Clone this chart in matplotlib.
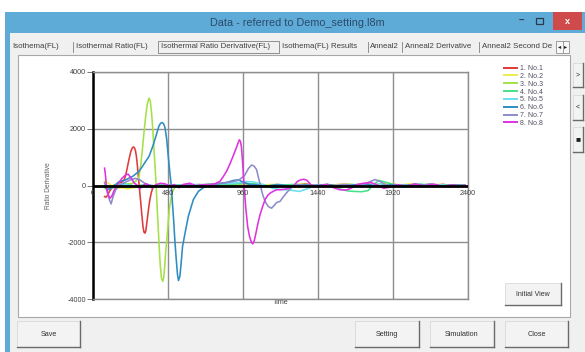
import matplotlib
matplotlib.use("Agg")
import matplotlib.pyplot as plt
from matplotlib.patches import Rectangle
from matplotlib.lines import Line2D

plt.rcParams['font.family'] = ['Liberation Sans', 'DejaVu Sans']

# ---------------- data ----------------
labels = ["1. No.1", "2. No.2", "3. No.3", "4. No.4", "5. No.5", "6. No.6", "7. No.7", "8. No.8"]
colors = ["#e03a3a", "#ecec50", "#a6e048", "#48e088", "#68e0ee", "#2f8cc2", "#8c8cca", "#e032e0"]

t1 = [74, 84, 95, 105, 120, 137, 152, 168, 185, 200, 210, 221, 232, 242, 252, 260, 266, 272, 278, 284, 290, 297, 305, 312, 320, 326, 332, 338, 347, 356, 364, 373, 383, 392, 400, 430, 470, 520, 580, 640, 720, 800, 880, 960, 1040, 1120, 1200, 1280, 1360, 1440, 1520, 1600, 1680, 1760, 1840, 1920, 2000, 2080, 2160, 2240, 2320, 2380]
v1 = [-390, -410, -330, -210, -90, 0, 40, 80, 120, 200, 380, 670, 960, 1200, 1330, 1360, 1320, 1220, 1020, 700, 330, -100, -560, -1000, -1450, -1640, -1680, -1600, -1210, -800, -500, -250, -90, -20, 0, 40, -20, 30, -10, 20, -30, 10, 40, -20, 30, -40, 20, -10, 60, -30, 10, 40, -20, 30, -10, 50, -30, 20, -10, 40, -20, 10]

t2 = [74, 100, 130, 160, 190, 220, 250, 280, 310, 340, 380, 420, 480, 540, 600, 680, 760, 840, 920, 1000, 1080, 1160, 1240, 1320, 1400, 1480, 1560, 1640, 1720, 1800, 1880, 1960, 2040, 2120, 2200, 2280, 2380]
v2 = [150, 80, -60, -100, -80, -120, -90, -60, 0, 40, -40, 60, 20, -30, 40, 0, 50, -20, 30, 60, 20, 40, -30, 50, 20, -40, 30, 60, -20, 40, 70, 20, 60, -30, 40, 10, -20]

t3 = [74, 90, 110, 137, 168, 200, 230, 253, 274, 295, 305, 316, 326, 337, 347, 358, 366, 375, 383, 389, 398, 404, 410, 417, 425, 431, 438, 446, 453, 459, 465, 474, 488, 505, 526, 547, 580, 620, 680, 740, 800, 880, 960, 1040, 1120, 1200, 1280, 1360, 1440, 1520, 1600, 1680, 1760, 1840, 1920, 2000, 2080, 2160, 2240, 2320, 2380]
v3 = [-80, -150, -60, 30, -40, 20, 60, 80, 150, 320, 700, 1260, 1850, 2430, 2850, 3080, 3000, 2550, 1950, 1370, 600, 0, -700, -1450, -2300, -2850, -3250, -3380, -3250, -2850, -2350, -1800, -860, -270, -40, 0, 30, -20, 40, 0, 30, -30, 20, 50, -20, 30, 0, 40, -30, 20, -50, 30, 60, -20, 40, -30, 20, 40, -10, 30, 0]

t4 = [74, 100, 130, 160, 200, 240, 280, 320, 380, 440, 500, 580, 660, 740, 820, 900, 980, 1060, 1140, 1220, 1300, 1380, 1460, 1540, 1600, 1640, 1680, 1720, 1760, 1800, 1830, 1870, 1920, 1980, 2040, 2100, 2160, 2220, 2280, 2340, 2380]
v4 = [-50, -120, -80, 40, 60, 20, -40, 30, -20, 40, 0, 30, -20, 40, 10, 50, 80, 40, -30, 20, 40, -20, 30, -60, -150, -200, -210, -220, -180, 50, 180, 120, 40, -30, 20, 50, -20, 30, -10, 20, 0]

t5 = [74, 100, 130, 170, 220, 280, 340, 400, 480, 560, 640, 720, 800, 880, 940, 980, 1020, 1060, 1100, 1150, 1200, 1260, 1320, 1370, 1420, 1480, 1540, 1600, 1660, 1720, 1780, 1840, 1900, 1960, 2020, 2080, 2140, 2200, 2260, 2320, 2380]
v5 = [0, -100, -40, 50, 20, -30, 40, -20, 30, 0, 40, 20, 60, 80, 100, 140, 130, 80, 20, -100, -140, -160, -210, -120, 0, 30, -40, 20, 40, -30, 20, 60, -20, 30, 0, 40, -20, 30, 10, -20, 0]

t6 = [74, 95, 120, 150, 168, 210, 253, 295, 316, 337, 358, 374, 389, 405, 421, 432, 442, 451, 459, 466, 472, 478, 484, 492, 501, 508, 516, 524, 533, 541, 547, 556, 564, 573, 589, 610, 642, 674, 716, 758, 800, 850, 900, 930, 960, 1000, 1050, 1100, 1180, 1260, 1340, 1420, 1500, 1580, 1660, 1740, 1820, 1900, 1980, 2060, 2140, 2220, 2300, 2380]
v6 = [-50, -150, -80, 60, 140, 200, 320, 500, 670, 850, 1020, 1250, 1490, 1780, 2080, 2190, 2220, 2180, 2080, 1850, 1610, 1250, 900, 450, 0, -580, -1210, -1950, -2620, -3150, -3350, -3200, -2740, -2150, -1680, -1090, -500, -210, -35, 20, 60, 100, 180, 200, 120, 40, 20, -30, 40, -20, 30, 0, 40, -30, 20, 50, -20, 30, -10, 40, 10, -30, 20, 0]

t7 = [74, 90, 105, 116, 128, 145, 168, 200, 240, 270, 300, 330, 370, 420, 480, 540, 600, 660, 720, 780, 840, 880, 930, 970, 995, 1015, 1030, 1047, 1058, 1068, 1080, 1090, 1105, 1122, 1143, 1160, 1175, 1197, 1215, 1240, 1265, 1290, 1330, 1380, 1440, 1500, 1560, 1620, 1680, 1740, 1780, 1805, 1830, 1870, 1920, 1980, 2040, 2100, 2160, 2220, 2280, 2340, 2380]
v7 = [100, -200, -500, -650, -400, -150, 0, 100, 200, 250, 200, 80, 0, -30, 20, -20, 30, 0, 40, 60, 100, 120, 180, 350, 600, 720, 690, 560, 300, 80, -200, -390, -600, -740, -800, -700, -600, -560, -420, -250, -100, 0, 30, -20, 20, -30, 10, 40, -20, 60, 150, 210, 160, 40, -30, 20, -40, 10, 60, -20, -50, 20, -10]

t8 = [74, 80, 86, 95, 108, 120, 137, 160, 185, 210, 225, 245, 265, 285, 300, 315, 335, 355, 380, 400, 430, 460, 490, 520, 550, 580, 620, 660, 700, 740, 780, 813, 832, 855, 877, 900, 920, 930, 937, 944, 950, 955, 960, 968, 978, 990, 1002, 1014, 1022, 1032, 1042, 1055, 1068, 1085, 1101, 1118, 1133, 1155, 1175, 1200, 1240, 1280, 1310, 1330, 1350, 1370, 1395, 1420, 1460, 1500, 1540, 1580, 1620, 1650, 1690, 1730, 1780, 1820, 1860, 1900, 1950, 2000, 2060, 2120, 2180, 2240, 2300, 2350, 2380]
v8 = [610, 350, -50, -300, -450, -380, -150, 50, 250, 380, 400, 250, 80, 0, -120, -30, 60, 20, -100, 20, 80, 60, -20, 30, -80, 40, 80, -20, 30, 10, 60, 150, 300, 500, 770, 1080, 1370, 1520, 1610, 1550, 1350, 1000, 600, -100, -800, -1450, -1800, -2000, -2060, -1950, -1700, -1350, -1050, -750, -500, -350, -270, -200, -150, -150, -120, -30, 150, 200, 220, 180, 20, -30, 0, 40, -80, -150, -160, -100, 30, 80, 100, 20, -100, -60, 30, -40, 60, -20, 50, -30, 20, -40, 10]

series_t = [t1, t2, t3, t4, t5, t6, t7, t8]
series_v = [v1, v2, v3, v4, v5, v6, v7, v8]

x_ticks = [0, 480, 960, 1440, 1920, 2400]
y_ticks = [-4000, -2000, 0, 2000, 4000]

title = "Data - referred to Demo_setting.l8m"
tabs = ["Isothema(FL)", "Isothermal Ratio(FL)", "Isothermal Ratio Derivative(FL)",
        "Isothema(FL) Results", "Anneal2", "Anneal2 Derivative", "Anneal2 Second De"]

# ---------------- figure / window chrome ----------------
W, H = 585, 352
fig = plt.figure(figsize=(W / 100, H / 100), dpi=100)
fig.patch.set_facecolor("white")
bg = fig.add_axes([0, 0, 1, 1])
bg.set_xlim(0, W)
bg.set_ylim(H, 0)
bg.axis("off")
bg.set_zorder(0)

def rect(x0, y0, x1, y1, fc, ec="none", lw=0, z=1):
    bg.add_patch(Rectangle((x0, y0), x1 - x0, y1 - y0, facecolor=fc, edgecolor=ec, linewidth=lw, zorder=z))

def hline(x0, x1, y, c, lw=0.8, z=3):
    bg.add_line(Line2D([x0, x1], [y, y], color=c, lw=lw, zorder=z))

def vline(x, y0, y1, c, lw=0.8, z=3):
    bg.add_line(Line2D([x, x], [y0, y1], color=c, lw=lw, zorder=z))

def button(x0, y0, x1, y1, text, fs=5.2):
    rect(x0, y0, x1, y1, "#f3f3f3", ec="#d4d4d4", lw=0.5, z=2)
    hline(x0, x1, y1, "#6a6a6a", lw=1.0)
    vline(x1, y0, y1, "#6a6a6a", lw=1.0)
    if text:
        bg.text((x0 + x1) / 2, (y0 + y1) / 2, text, ha="center", va="center",
                fontsize=fs, color="#303030", zorder=4)

# window frame (blue), body (grey)
rect(5, 12, W, H, "#5fabd8", z=1)
rect(10, 33, W, H, "#f0f0f0", z=1)
bg.text(297, 22.5, title, ha="center", va="center", fontsize=7.8, color="#2b4a6a", zorder=4)
# title-bar buttons
bg.text(521, 21, "\u2013", ha="center", va="center", fontsize=7, color="#2b3a4a", zorder=4, fontweight="bold")
rect(536, 17.5, 543, 23.5, "none", ec="#2b3a4a", lw=0.9, z=4)
rect(553, 12, 582, 30, "#cf4a4a", z=3)
bg.text(567.5, 21, "x", ha="center", va="center", fontsize=6.5, color="white", zorder=4, fontweight="bold")

# tab strip
tab_x = [12, 76, 161, 282, 370, 405, 482]
for i, (x, s) in enumerate(zip(tab_x, tabs)):
    bg.text(x, 47, s, ha="left", va="center", fontsize=5.7, color="#404040", zorder=4)
sep_x = [73, 368, 402, 479]
for x in sep_x:
    vline(x, 42, 52, "#808080", lw=0.6)
rect(158, 41, 279, 53, "none", ec="#909090", lw=0.7, z=4)
rect(556, 41, 569, 53, "#f7f7f7", ec="#909090", lw=0.6, z=6)
vline(562.5, 41, 53, "#909090", lw=0.6, z=7)
bg.text(559.3, 47, "\u25c2", ha="center", va="center", fontsize=4.5, color="#202020", zorder=8)
bg.text(565.8, 47, "\u25b8", ha="center", va="center", fontsize=4.5, color="#202020", zorder=8)

# white chart panel
rect(18, 55, 570, 317, "white", ec="#a8a8a8", lw=0.8, z=2)

# right side small buttons
for (y0, y1, s) in [(63, 87, ">"), (95, 120, "<"), (127, 152, "\u25a0")]:
    button(573, y0, 583, y1, "", fs=5)
    bg.text(578, (y0 + y1) / 2, s, ha="center", va="center", fontsize=5 if s != "\u25a0" else 6,
            color="#202020", zorder=5)

# buttons
button(505, 283, 561, 305, "Initial View", fs=5)
button(17, 321, 80, 347, "Save")
button(355, 321, 419, 347, "Setting")
button(430, 321, 494, 347, "Simulation")
button(505, 321, 568, 347, "Close")

# ---------------- chart ----------------
ax = fig.add_axes([93 / W, 1 - 299 / H, 375 / W, 227 / H])
ax.set_zorder(2)
ax.patch.set_alpha(0)
lines = []
for t, v, c, lab in zip(series_t, series_v, colors, labels):
    ln, = ax.plot(t, v, color=c, lw=1.15, label=lab, zorder=3, solid_joinstyle="round")
    lines.append(ln)

ax.set_xlim(0, 2400)
ax.set_ylim(-4000, 4000)
ax.set_xticks(x_ticks)
ax.set_yticks(y_ticks)
ax.grid(True, color="#8e8e8e", lw=1.0, zorder=1)
ax.set_axisbelow(True)
for side in ["top", "right", "bottom"]:
    ax.spines[side].set_color("#8e8e8e")
    ax.spines[side].set_linewidth(1.0)
ax.spines["left"].set_color("black")
ax.spines["left"].set_linewidth(1.8)
ax.tick_params(axis="x", length=0, labelbottom=False)
ax.tick_params(axis="y", length=4, width=0.6, color="#606060", labelsize=5.2,
               labelcolor="#404040", pad=1)
ax.set_yticklabels([str(v) for v in y_ticks])
ax.axhline(0, color="black", lw=2.0, zorder=4)
for x in x_ticks:
    ax.annotate(str(x), (x, 0), xytext=(0, -3.5), textcoords="offset points",
                ha="center", va="top", fontsize=5.2, color="#404040", zorder=5)
ax.set_ylabel("Ratio Derivative", fontsize=4.8, color="#606060", labelpad=11)
ax.set_xlabel("Time", fontsize=5.2, color="#404040", labelpad=0)

leg = ax.legend(handles=lines, loc="upper left", bbox_to_anchor=(504 / W, 1 - 65 / H),
                bbox_transform=fig.transFigure, frameon=False, fontsize=5.0,
                handlelength=1.8, handletextpad=0.5, labelspacing=0.12,
                borderpad=0, borderaxespad=0)
for txt in leg.get_texts():
    txt.set_color("#505060")
for lh in leg.get_lines():
    lh.set_linewidth(1.4)

fig.savefig("out.png", dpi=100)
